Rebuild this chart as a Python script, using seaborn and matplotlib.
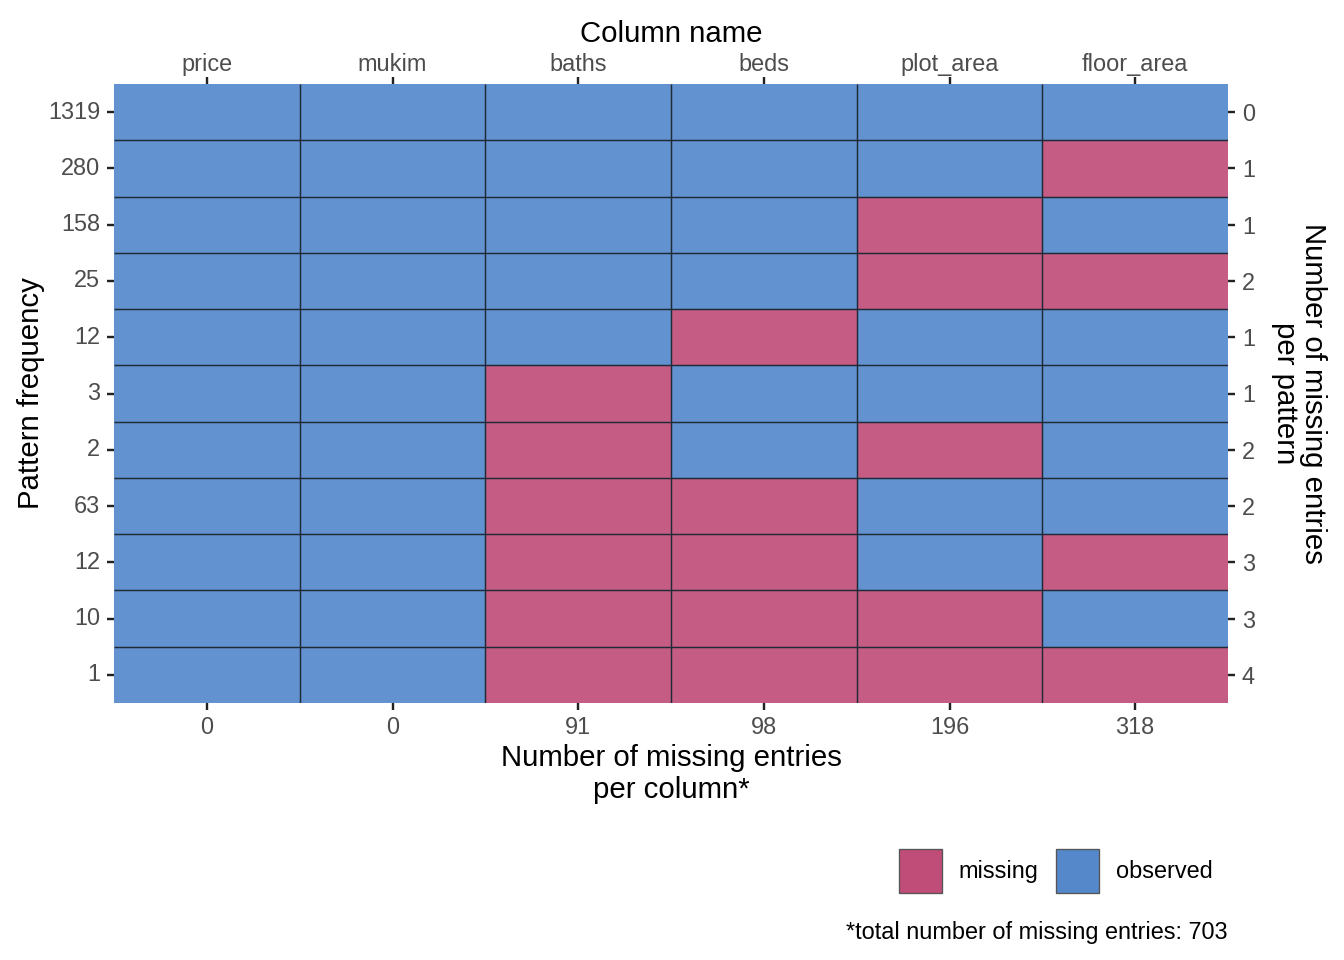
"""
Missing data pattern plot (style ggmice)
"""
import numpy as np
import pandas as pd
import matplotlib
matplotlib.use("Agg")
import matplotlib.pyplot as plt
from matplotlib.colors import ListedColormap
from matplotlib.patches import Patch
import seaborn as sns

# ── Données ───────────────────────────────────────────────────────────────────

columns = ["price", "mukim", "baths", "beds", "plot_area", "floor_area"]
pattern_freq = [1319, 280, 158, 25, 12, 3, 2, 63, 12, 10, 1]
# 1 = missing, 0 = observed (une ligne par motif, de haut en bas)
patterns = [
    [0, 0, 0, 0, 0, 0],
    [0, 0, 0, 0, 0, 1],
    [0, 0, 0, 0, 1, 0],
    [0, 0, 0, 0, 1, 1],
    [0, 0, 0, 1, 0, 0],
    [0, 0, 1, 0, 0, 0],
    [0, 0, 1, 0, 1, 0],
    [0, 0, 1, 1, 0, 0],
    [0, 0, 1, 1, 0, 1],
    [0, 0, 1, 1, 1, 0],
    [0, 0, 1, 1, 1, 1],
]

OBS_TILE, MISS_TILE = "#6292D0", "#C45C84"
OBS_KEY, MISS_KEY = "#5588CA", "#C04C78"
TICK_COL = "#4D4D4D"

mat = pd.DataFrame(patterns, columns=columns)
miss_per_pattern = mat.sum(axis=1).tolist()
miss_per_column = [int((mat[c] * pattern_freq).sum()) for c in columns]
total_missing = sum(miss_per_column)

# ── Figure ────────────────────────────────────────────────────────────────────

sns.set_style("white")
plt.rcParams["font.family"] = ["Liberation Sans", "DejaVu Sans"]
plt.rcParams["text.color"] = "black"
plt.rcParams["axes.labelcolor"] = "black"

fig = plt.figure(figsize=(7, 5), dpi=192)
ax = fig.add_axes([114 / 1344, 1 - 703 / 960, (1228 - 114) / 1344, (703 - 84) / 960])

sns.heatmap(
    mat, ax=ax, cmap=ListedColormap([OBS_TILE, MISS_TILE]),
    vmin=0, vmax=1, cbar=False,
)
nrow, ncol = mat.shape
ax.hlines(np.arange(1, nrow), 0, ncol, color="#1F2A36", lw=0.55)
ax.vlines(np.arange(1, ncol), 0, nrow, color="#1F2A36", lw=0.55)
for s in ax.spines.values():
    s.set_visible(False)

tick_kw = dict(length=2.75, width=0.9, color="#222222", labelsize=8.8,
               labelcolor=TICK_COL, pad=2.5)

# bas : nombre de valeurs manquantes par colonne
ax.set_xticks(np.arange(ncol) + 0.5)
ax.set_xticklabels(miss_per_column, rotation=0)
ax.set_yticks(np.arange(nrow) + 0.5)
ax.set_yticklabels(pattern_freq, rotation=0)
ax.tick_params(axis="both", **tick_kw)
ax.tick_params(axis="x", pad=2)
ax.set_xlabel("Number of missing entries\nper column*", fontsize=11,
              linespacing=1.18, labelpad=2)
ax.set_ylabel("Pattern frequency", fontsize=11, labelpad=1)

# haut : noms des colonnes
ax_top = ax.twiny()
ax_top.set_xlim(ax.get_xlim())
ax_top.set_xticks(np.arange(ncol) + 0.5)
ax_top.set_xticklabels(columns)
ax_top.tick_params(axis="x", **tick_kw)
ax_top.tick_params(axis="x", pad=0.3)
ax_top.set_xlabel("Column name", fontsize=11, labelpad=4)

# droite : nombre de valeurs manquantes par motif
ax_right = ax.twinx()
ax_right.set_ylim(ax.get_ylim())
ax_right.set_yticks(np.arange(nrow) + 0.5)
ax_right.set_yticklabels(miss_per_pattern)
ax_right.tick_params(axis="y", **tick_kw)
ax_right.set_ylabel("Number of missing entries\nper pattern", fontsize=11,
                    rotation=270, linespacing=1.0, va="bottom", labelpad=6)
for a in (ax_top, ax_right):
    for s in a.spines.values():
        s.set_visible(False)
    a.grid(False)

# légende + note
handles = [Patch(facecolor=MISS_KEY, edgecolor="#555555", lw=0.5, label="missing"),
           Patch(facecolor=OBS_KEY, edgecolor="#555555", lw=0.5, label="observed")]
fig.legend(handles=handles, ncol=2, loc="center right",
           bbox_to_anchor=(1222 / 1344, 1 - 871 / 960), frameon=False,
           fontsize=8.8, handlelength=1.85, handleheight=2.45,
           handletextpad=0.7, columnspacing=0.75, borderaxespad=0)
fig.text(1228 / 1344, 1 - 933 / 960,
         f"*total number of missing entries: {total_missing}",
         ha="right", va="center", fontsize=8.8)

fig.savefig("out.png", dpi=192)
